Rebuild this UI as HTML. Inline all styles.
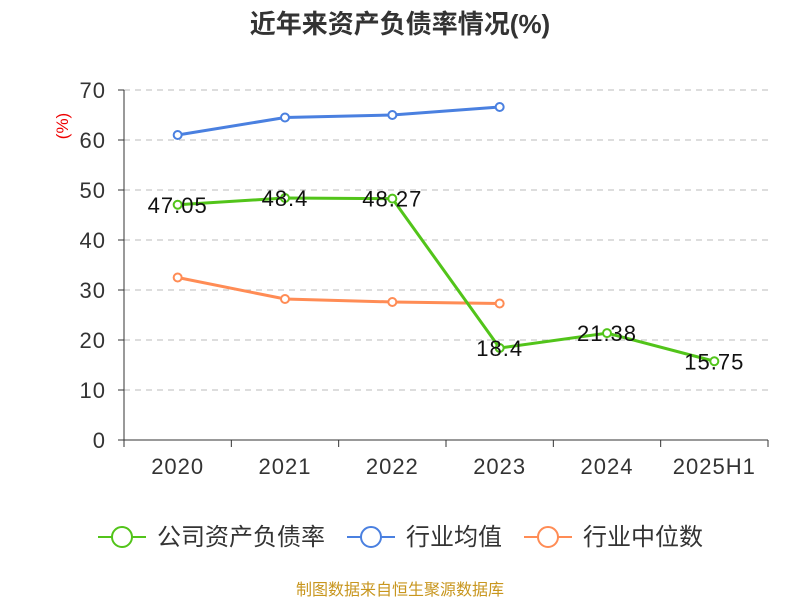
<!DOCTYPE html>
<html><head><meta charset="utf-8"><style>
body{margin:0;background:#fff;width:800px;height:600px;overflow:hidden;font-family:"Liberation Sans","Noto Sans CJK SC",sans-serif}
</style></head><body>
<svg id="c" width="800" height="600" xmlns="http://www.w3.org/2000/svg">
<text x="400" y="33" text-anchor="middle" font-size="26" font-weight="bold" fill="#333" font-family="Liberation Sans,Noto Sans CJK SC,sans-serif">近年来资产负债率情况(%)</text>
<text transform="translate(68,126) rotate(-90)" text-anchor="middle" font-size="17" fill="#e00">(%)</text>
<g id="grid"></g><g id="axes"></g><g id="series"></g>
<g>
<g><line x1="98" y1="537" x2="146" y2="537" stroke="#52c41a" stroke-width="2"/><circle cx="122" cy="537" r="10" fill="#fff" stroke="#52c41a" stroke-width="2"/><text x="157" y="545" font-size="24" fill="#333">公司资产负债率</text></g>
<g><line x1="347" y1="537" x2="395" y2="537" stroke="#4a80e0" stroke-width="2"/><circle cx="371" cy="537" r="10" fill="#fff" stroke="#4a80e0" stroke-width="2"/><text x="406" y="545" font-size="24" fill="#333">行业均值</text></g>
<g><line x1="524" y1="537" x2="572" y2="537" stroke="#ff8c55" stroke-width="2"/><circle cx="548" cy="537" r="10" fill="#fff" stroke="#ff8c55" stroke-width="2"/><text x="583" y="545" font-size="24" fill="#333">行业中位数</text></g>
</g>
<text x="400" y="595" text-anchor="middle" font-size="16" fill="#c8961e">制图数据来自恒生聚源数据库</text>
</svg>
<script>
const categories=["2020","2021","2022","2023","2024","2025H1"];
const companyValues=[47.05,48.4,48.27,18.4,21.38,15.75];
const industryAvg=[61,64.5,65,66.6];
const industryMedian=[32.5,28.2,27.6,27.3];
const yTicks=[0,10,20,30,40,50,60,70];
const NS="http://www.w3.org/2000/svg";
const x0=124,x1=768,y0=440,yTop=90,yMax=70;
const bw=(x1-x0)/categories.length;
const xs=i=>x0+bw*(i+0.5);
const ys=v=>y0-(v/yMax)*(y0-yTop);
function mk(p,t,a){const e=document.createElementNS(NS,t);for(const k in a)e.setAttribute(k,a[k]);p.appendChild(e);return e;}
const grid=document.getElementById('grid'),axes=document.getElementById('axes'),ser=document.getElementById('series');
yTicks.forEach(v=>{
 if(v>0){const g=mk(grid,'line',{x1:x0,x2:x1,y1:ys(v),y2:ys(v),stroke:'#bbb','stroke-dasharray':'6,5'});
 
 }
 const t=mk(axes,'text',{x:106,y:ys(v)+8,'text-anchor':'end','font-size':22,'letter-spacing':1,fill:'#333'});t.textContent=v;
 
 
 mk(axes,'line',{x1:x0-6,x2:x0,y1:ys(v),y2:ys(v),stroke:'#333'});
});
const ya=mk(axes,'line',{x1:x0,x2:x0,y1:yTop,y2:y0,stroke:'#333'});


const xa=mk(axes,'line',{x1:x0,x2:x1,y1:y0,y2:y0,stroke:'#333'});


for(let i=0;i<=categories.length;i++)mk(axes,'line',{x1:x0+bw*i,x2:x0+bw*i,y1:y0,y2:y0+7,stroke:'#333'});
categories.forEach((c,i)=>{const t=mk(axes,'text',{x:xs(i),y:474,'text-anchor':'middle','font-size':22,'letter-spacing':1,fill:'#333'});t.textContent=c;
 
 });
function line(vals,color,name,labels){
 const g=mk(ser,'g',{});
 
 
 mk(g,'polyline',{points:vals.map((v,i)=>xs(i)+','+ys(v)).join(' '),fill:'none',stroke:color,'stroke-width':3});
 vals.forEach((v,i)=>{const c=mk(g,'circle',{cx:xs(i),cy:ys(v),r:4,fill:'#fff',stroke:color,'stroke-width':2});
  
  
  if(labels){const t=mk(g,'text',{x:xs(i),y:ys(v)+8,'text-anchor':'middle','font-size':22,'letter-spacing':1,fill:'#111'});t.textContent=v;
   
   }});
}
line(industryAvg,'#4a80e0','industry-average-line',false);
line(industryMedian,'#ff8c55','industry-median-line',false);
line(companyValues,'#52c41a','company-line',true);
</script>
</body></html>
